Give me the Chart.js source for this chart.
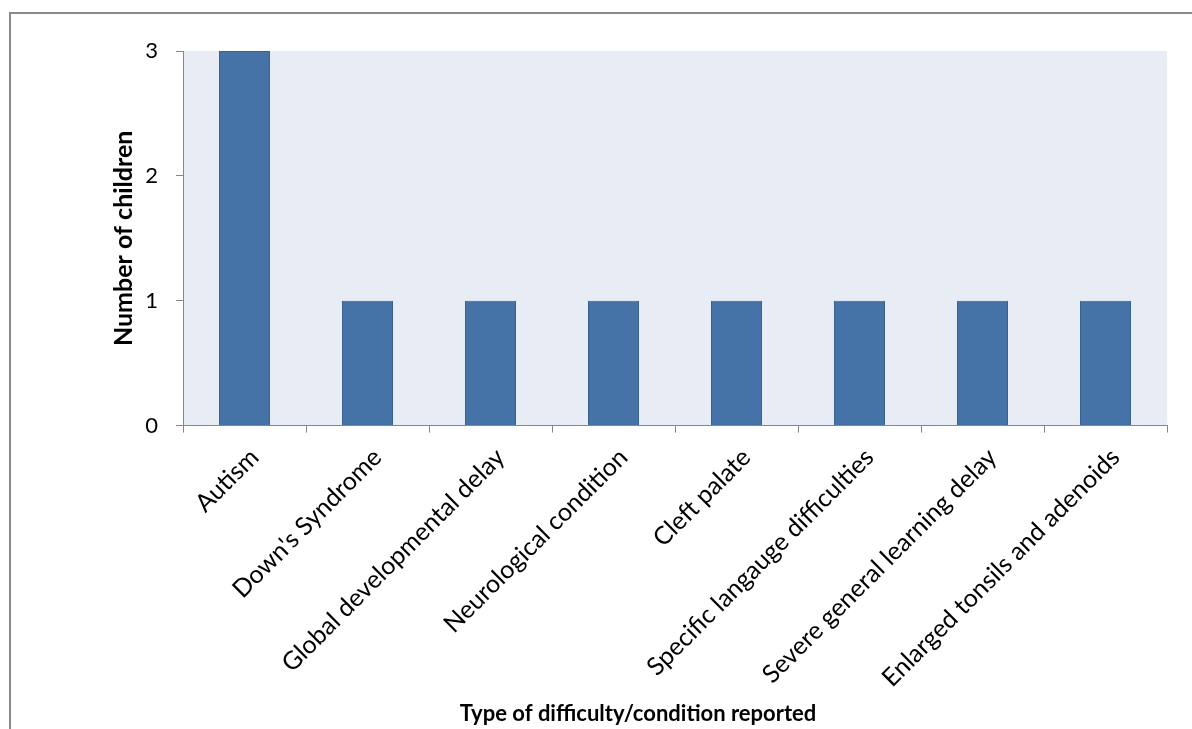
<!DOCTYPE html>
<html>
<head>
<meta charset="utf-8">
<script src="https://cdn.jsdelivr.net/npm/chart.js@4/dist/chart.umd.min.js"></script>
<style>
html,body{margin:0;padding:0;background:#fff;overflow:hidden;}
#wrap{position:relative;width:1192px;height:729px;}
</style>
</head>
<body>
<div id="wrap"><canvas id="c" width="1192" height="729"></canvas></div>
<script>
const categories = ["Autism", "Down's Syndrome", "Global developmental delay", "Neurological condition", "Cleft palate", "Specific langauge difficulties", "Severe general learning delay", "Enlarged tonsils and adenoids"];
const childCounts = [3, 1, 1, 1, 1, 1, 1, 1];
const yTicks = [0, 1, 2, 3];
const yTitle = "Number of children";
const xTitle = "Type of difficulty/condition reported";

const FONT = "Lato, 'Open Sans', sans-serif";
const AXIS = "#868686";

const framePlugin = {
  id: 'frame',
  beforeDraw(chart) {
    const ctx = chart.ctx, a = chart.chartArea;
    ctx.save();
    ctx.fillStyle = '#ffffff';
    ctx.fillRect(0, 0, chart.width, chart.height);
    ctx.fillStyle = '#E8ECF4';
    ctx.fillRect(a.left, a.top, a.right - a.left, a.bottom - a.top);
    ctx.strokeStyle = '#8a8a8a';
    ctx.lineWidth = 2;
    ctx.beginPath();
    ctx.moveTo(10, chart.height + 5);
    ctx.lineTo(10, 13);
    ctx.lineTo(chart.width + 5, 13);
    ctx.stroke();
    ctx.restore();
  }
};

new Chart(document.getElementById('c'), {
  type: 'bar',
  data: {
    labels: categories,
    datasets: [{
      data: childCounts,
      backgroundColor: '#4572A7',
      borderColor: '#3A6291',
      borderWidth: 1,
      categoryPercentage: 1,
      barPercentage: 0.415
    }]
  },
  options: {
    responsive: false,
    animation: false,
    devicePixelRatio: 1,
    layout: { padding: { left: 109, right: 25, top: 51, bottom: 2 } },
    plugins: {
      legend: { display: false },
      tooltip: { enabled: false },
      title: {
        display: true,
        position: 'bottom',
        text: xTitle,
        color: '#000',
        font: { family: FONT, size: 22, weight: 'bold' },
        padding: { top: 0, bottom: 0 }
      }
    },
    scales: {
      x: {
        afterFit(scale) { scale.height = 275; },
        grid: { display: true, offset: true, drawOnChartArea: false, color: AXIS, tickLength: 7, lineWidth: 1 },
        border: { display: true, color: AXIS, width: 1 },
        ticks: {
          color: '#000',
          font: { family: FONT, size: 25 },
          minRotation: 45, maxRotation: 45,
          autoSkip: false,
          padding: 10,
          labelOffset: 10
        }
      },
      y: {
        min: 0, max: 3,
        afterBuildTicks(scale) { scale.ticks = yTicks.map(v => ({ value: v })); },
        afterFit(scale) { scale.width = 74; },
        grid: { display: true, drawOnChartArea: false, color: AXIS, tickLength: 7, lineWidth: 1 },
        border: { display: true, color: AXIS, width: 1 },
        ticks: {
          color: '#000',
          font: { family: FONT, size: 22 },
          padding: 18,
          stepSize: 1
        },
        title: {
          display: true,
          text: yTitle,
          color: '#000',
          font: { family: FONT, size: 25, weight: 'bold' },
          padding: { top: 0, bottom: 0 }
        }
      }
    }
  },
  plugins: [framePlugin]
});
</script>
</body>
</html>
